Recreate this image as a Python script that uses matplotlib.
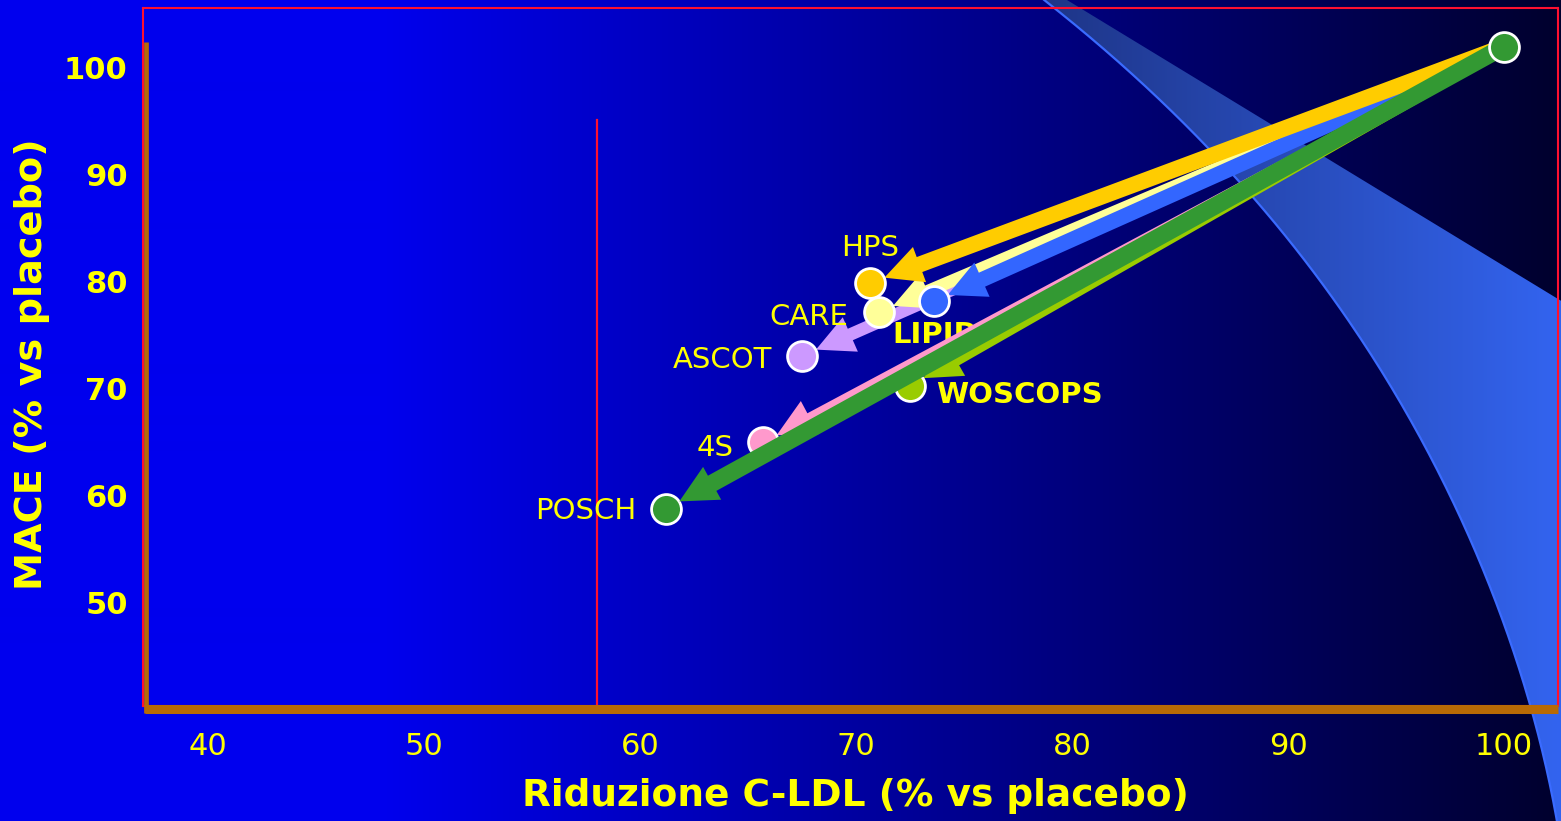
import numpy as np
import matplotlib
matplotlib.use("Agg")
import matplotlib.pyplot as plt
from matplotlib.patches import FancyArrowPatch, Polygon, ArrowStyle
from matplotlib.lines import Line2D

plt.rcParams['font.family'] = ['DejaVu Sans']

# ---- data -------------------------------------------------------------
trials = ["HPS", "CARE", "LIPID", "ASCOT", "WOSCOPS", "4S", "POSCH"]
ldl_reduction = [70.65, 71.06, 73.6, 67.5, 72.5, 65.7, 61.2]   # % vs placebo
mace = [79.9, 77.2, 78.2, 73.1, 70.3, 65.0, 58.8]               # % vs placebo
placebo_x, placebo_y = 100.0, 102.0

x_ticks = [40, 50, 60, 70, 80, 90, 100]
y_ticks = [50, 60, 70, 80, 90, 100]
x_label = "Riduzione C-LDL (% vs placebo)"
y_label = "MACE (% vs placebo)"

# ---- styles per trial -------------------------------------------------
colors = {"HPS": "#FFCC00", "CARE": "#FFFF99", "LIPID": "#3366FF",
          "ASCOT": "#CC99FF", "WOSCOPS": "#99CC00", "4S": "#FF99CC",
          "POSCH": "#339933"}
tail_w = {"HPS": 11.5, "CARE": 9.0, "LIPID": 11.0, "ASCOT": 9.0,
          "WOSCOPS": 9.5, "4S": 7.0, "POSCH": 12.5}
arrow_z = {"ASCOT": 2, "WOSCOPS": 3, "4S": 3.1, "CARE": 3.2, "LIPID": 3.3,
           "HPS": 3.4, "POSCH": 5}
label_style = {  # offset (pt), ha, weight
    "HPS": ((0, 25), "center", "normal"),
    "CARE": ((-22, -4), "right", "normal"),
    "LIPID": ((-29.5, -24.5), "left", "bold"),
    "ASCOT": ((-21.6, -3), "right", "normal"),
    "WOSCOPS": ((18.7, -6.5), "left", "bold"),
    "4S": ((-21, -4.3), "right", "normal"),
    "POSCH": ((-21.6, -1.4), "right", "normal"),
}
YELLOW = "#FFFF00"
W, H = 1561, 821

fig = plt.figure(figsize=(W / 100, H / 100), dpi=100)

# ---- slide background: blue fading to near black ----------------------
bg = fig.add_axes([0, 0, 1, 1], zorder=-10)
bg.set_xlim(0, W)
bg.set_ylim(H, 0)
bg.axis("off")
xs = np.arange(W)
t = np.clip((xs - 380) / (W - 380), 0, 1)
blue = 238 * (1 - t) + 45 * t
grad = np.zeros((1, W, 3))
grad[0, :, 2] = blue / 255
bg.imshow(grad, extent=(0, W, H, 0), aspect="auto", interpolation="bilinear")

# decorative swoosh on the right
cy = np.array([0, 43, 100, 150, 203, 250, 323, 397, 457, 500, 525, 600, 690, 821])
cx = np.array([1043, 1097, 1163, 1210, 1257, 1295, 1348, 1398, 1432, 1455,
               1465, 1490, 1527, 1557])
coef = np.polyfit(cy, cx, 4)
yy = np.linspace(0, H, 200)
xx = np.polyval(coef, yy)
poly = np.vstack([np.column_stack([xx, yy]),
                  [[W + 2, H], [W + 2, 302], [1067, 0]]])
band = Polygon(poly, closed=True, facecolor="none", edgecolor="none")
bg.add_patch(band)
tb = np.clip((xs - 1043) / (W - 1043), 0, 1)[None, :, None]
c0 = np.array([30, 53, 135]) / 255
c1 = np.array([51, 100, 240]) / 255
bgrad = c0 * (1 - tb) + c1 * tb
im = bg.imshow(bgrad, extent=(0, W, H, 0), aspect="auto", interpolation="bilinear")
im.set_clip_path(band)
bg.plot(xx, yy, color="#3A6BFF", lw=1.6)
bg.set_xlim(0, W)
bg.set_ylim(H, 0)

# ---- data axes --------------------------------------------------------
left, right, top, bottom = 143, 1558, 8, 706
ax = fig.add_axes([left / W, 1 - bottom / H, (right - left) / W, (bottom - top) / H])
ax.patch.set_visible(False)
xmin, xmax = 36.99, 102.5
ymin, ymax = 40.37, 105.6
ax.set_xlim(xmin, xmax)
ax.set_ylim(ymin, ymax)
for s in ax.spines.values():
    s.set_color("#FF1030")
    s.set_linewidth(1.5)
    s.set_zorder(1)

ax.set_xticks(x_ticks)
ax.set_yticks(y_ticks)
ax.tick_params(axis="both", length=0, colors=YELLOW)
ax.tick_params(axis="x", labelsize=22, pad=18.5)
ax.tick_params(axis="y", labelsize=22, pad=11)
for lab in ax.get_yticklabels():
    lab.set_fontweight("bold")

# orange axis bars
ax.add_line(Line2D([0.0022, 0.0022], [-0.010, 0.951], transform=ax.transAxes,
                   color="#B86A05", lw=3.4, clip_on=False, solid_capstyle="butt",
                   zorder=1.5))
ax.add_line(Line2D([0.0014, 1.0], [-0.005, -0.005], transform=ax.transAxes,
                   color="#B86A05", lw=6.5, clip_on=False, solid_capstyle="butt",
                   zorder=1.5))
# reference line
ax.axvline(58.0, ymin=0, ymax=(95.1 - ymin) / (ymax - ymin), color="#FF1030",
           lw=1.6, zorder=1)

# arrows from placebo point to each trial
for name, x, y in zip(trials, ldl_reduction, mace):
    style = ArrowStyle.Simple(head_length=27, head_width=27, tail_width=tail_w[name])
    arr = FancyArrowPatch((placebo_x, placebo_y), (x, y), arrowstyle=style,
                          mutation_scale=1, shrinkA=0, shrinkB=11,
                          color=colors[name], lw=0, zorder=arrow_z[name])
    ax.add_patch(arr)

# trial markers and labels
for name, x, y in zip(trials, ldl_reduction, mace):
    ax.plot(x, y, "o", ms=21.5, mfc=colors[name], mec="white", mew=2, zorder=4)
    off, ha, wt = label_style[name]
    ax.annotate(name, (x, y), xytext=off, textcoords="offset points",
                ha=ha, va="center", color=YELLOW, fontsize=21, fontweight=wt,
                zorder=2.5 if name == "LIPID" else 6)

ax.plot(placebo_x, placebo_y, "o", ms=21.5, mfc="#339933", mec="white", mew=2,
        zorder=7, clip_on=False)

# axis titles
fig.text(855 / W, 1 - 796 / H, x_label, ha="center", va="center",
         color=YELLOW, fontsize=27, fontweight="bold")
fig.text(32 / W, 1 - 364 / H, y_label, ha="center", va="center", rotation=90,
         color=YELLOW, fontsize=27.5, fontweight="bold")

fig.savefig("out.png", dpi=100)
